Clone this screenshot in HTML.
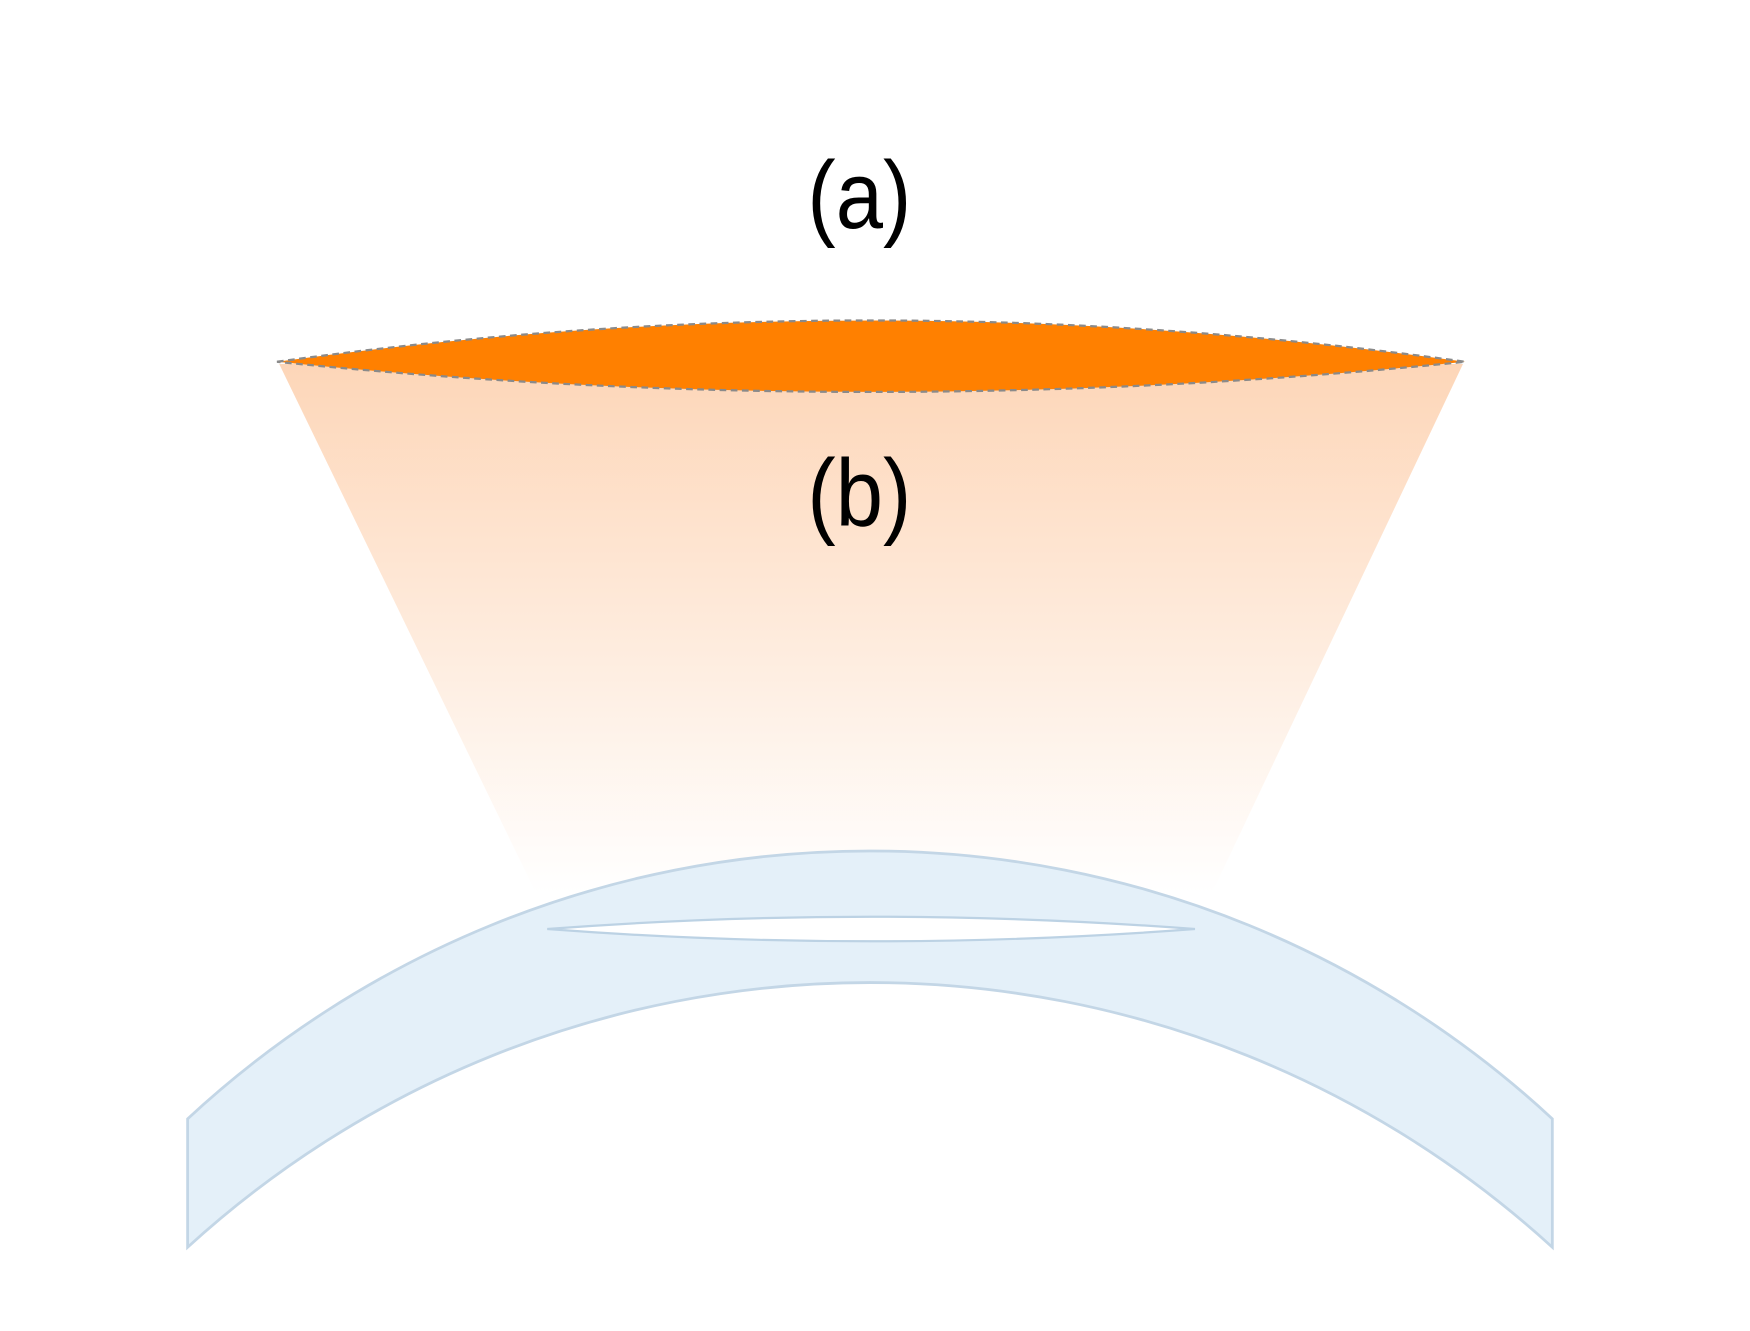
<!DOCTYPE html>
<html><head><meta charset="utf-8"><style>
html,body{margin:0;padding:0;background:#fff;}
svg{display:block;}
</style></head><body>
<svg width="1750" height="1331" viewBox="0 0 1567 1192" preserveAspectRatio="none" xmlns="http://www.w3.org/2000/svg">
<defs>
<linearGradient id="cone" x1="0" y1="0" x2="0" y2="1">
<stop offset="0" stop-color="#fdd6b8"/>
<stop offset="1" stop-color="#ffffff"/>
</linearGradient>
</defs>
<rect width="1567" height="1192" fill="#fff"/>
<polygon points="250,326 1310,326 1085,800 480,800" fill="url(#cone)"/>
<path d="M168,1002 A898,898 0 0 1 1390,1002 L1390,1117 A906,906 0 0 0 168,1117 Z" fill="#e3eff9" fill-opacity="0.95" stroke="#c3d6e6" stroke-width="2.5"/>
<path d="M490,832 Q780,810 1070,832 Q780,854 490,832 Z" fill="#ffffff" stroke="#bcd2e4" stroke-width="2"/>
<path d="M248,324 Q780,250 1312,324 Q780,378 248,324 Z" fill="#ff8000" stroke="#8a8a8a" stroke-width="2" stroke-dasharray="6,4"/>
<text x="723" y="204" textLength="93" lengthAdjust="spacingAndGlyphs" font-family="'Liberation Sans',sans-serif" font-size="86" fill="#000">(a)</text>
<text x="723" y="471" textLength="93" lengthAdjust="spacingAndGlyphs" font-family="'Liberation Sans',sans-serif" font-size="86" fill="#000">(b)</text>
</svg>
</body></html>
